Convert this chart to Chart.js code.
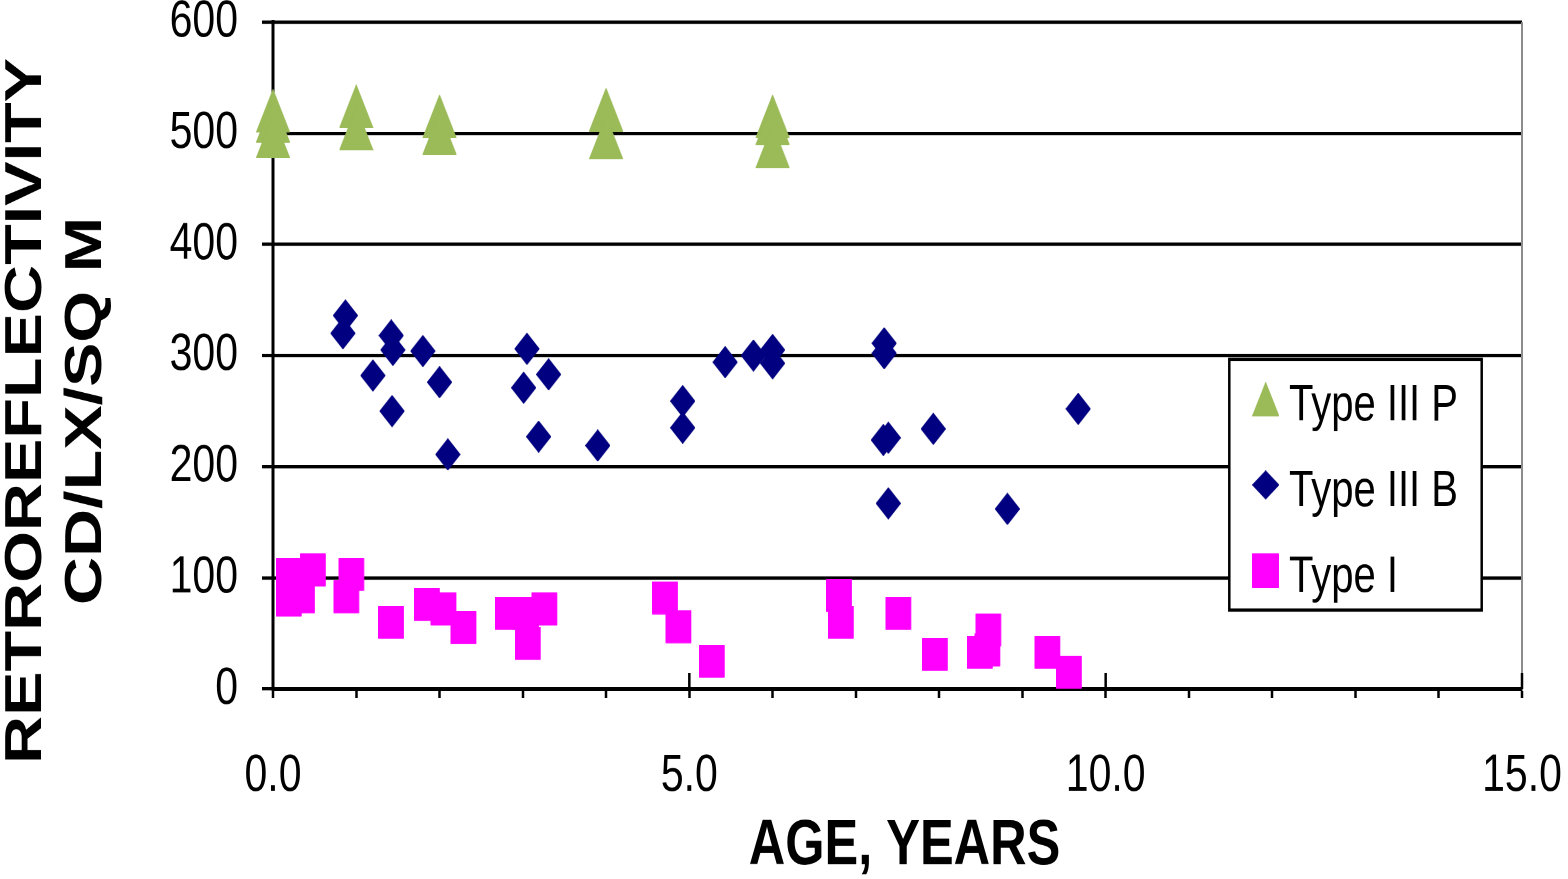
<!DOCTYPE html>
<html><head><meta charset="utf-8">
<script src="https://cdn.jsdelivr.net/npm/chart.js@4/dist/chart.umd.min.js"></script>
<style>html,body{margin:0;padding:0;background:#fff;overflow:hidden}</style>
</head><body>
<canvas id="c" width="1568" height="687" style="width:1568px;height:879px;display:block"></canvas>
<script>
// ---- data ----
const seriesNames = ['Type III P', 'Type III B', 'Type I'];
const typeIIIP_x = [0.0, 0.0, 0.0, 1.0, 1.0, 2.0, 2.0, 4.0, 4.0, 6.0, 6.0, 6.0];
const typeIIIP_y = [520, 511, 497, 524, 504, 515, 500, 521, 496, 515, 509, 488];
const typeIIIB_x = [0.87, 0.84, 1.42, 1.44, 1.80, 1.20, 2.00, 1.43, 2.10, 3.05, 3.31, 3.01, 3.19, 3.90, 4.92, 4.92, 5.43, 5.77, 6.00, 6.00, 7.34, 7.34, 7.33, 7.39, 7.93, 9.67, 7.39, 8.82];
const typeIIIB_y = [336, 320, 318, 305, 304, 282, 276, 250, 211, 306, 283, 271, 227, 219, 259, 235, 294, 300, 305, 293, 311, 302, 224, 226, 234, 252, 167, 162];
const typeI_x = [0.19, 0.19, 0.48, 0.35, 0.94, 0.88, 1.42, 1.85, 2.05, 2.29, 2.82, 3.04, 3.26, 3.06, 4.71, 4.87, 5.27, 6.80, 6.82, 7.51, 7.95, 8.59, 8.49, 8.58, 9.30, 9.56];
const typeI_y = [103, 80, 107, 83, 103, 83, 60, 76, 72, 55, 68, 68, 72, 41, 82, 56, 25, 84, 60, 68, 31, 53, 33, 35, 33, 15];
const xTickValues = [0, 5, 10, 15];
const xTickLabels = ['0.0', '5.0', '10.0', '15.0'];
const yTickLabels = ['0', '100', '200', '300', '400', '500', '600'];
const xTitle = 'AGE, YEARS';
const yTitleLines = ['RETROREFLECTIVITY', 'CD/LX/SQ M'];

// ---- styling ----
const FONT = "'Liberation Sans', Arial, sans-serif";
const COLORS = ['#9BBB59', '#000080', '#FF00FF'];
const SHIFT = '      '; // moves the rotated title toward the bottom, as in the original

function makeMarker(shape, w, h, color, dy) {
  dy = dy || 0;
  const k = 4, H = h + 2 * Math.abs(dy);
  const c = document.createElement('canvas');
  c.width = Math.ceil(w * k); c.height = Math.ceil(H * k);
  const g = c.getContext('2d');
  g.scale(k, k);
  g.fillStyle = color; g.strokeStyle = color; g.lineJoin = 'round'; g.lineWidth = 1;
  const top = (H - h) / 2 + dy, l = 0.5, r = w - 0.5, t = top + 0.5, b = top + h - 0.5;
  g.beginPath();
  if (shape === 'tri') { g.moveTo(w / 2, t); g.lineTo(r, b); g.lineTo(l, b); }
  else if (shape === 'dia') { g.moveTo(w / 2, t); g.lineTo(r, top + h / 2); g.lineTo(w / 2, b); g.lineTo(l, top + h / 2); }
  else { g.rect(l, t, r - l, b - t); }
  g.closePath(); g.fill(); g.stroke();
  const img = new Image();
  img.width = w; img.height = H;
  img.src = c.toDataURL();
  return img;
}
const plotMarkers = [makeMarker('tri', 34.5, 34.5, COLORS[0]), makeMarker('dia', 25.5, 25.5, COLORS[1]), makeMarker('sq', 26.3, 26.8, COLORS[2])];
const legendMarkers = [makeMarker('tri', 27.7, 26.8, COLORS[0], -5.7), makeMarker('dia', 27.7, 22.9, COLORS[1], -5.7), makeMarker('sq', 27.7, 27.3, COLORS[2], -5.7)];

const LEG = { left: 1235.4, top: 270.7, w: 300, h: 260 };
const LEG_FRAME = { x: 1229.3, y: 280.8, w: 252.4, h: 196 };

const extras = {
  id: 'extras',
  afterLayout(chart) {
    const lg = chart.legend;
    if (!lg) return;
    lg.left = LEG.left; lg.top = LEG.top; lg.width = LEG.w; lg.height = LEG.h;
    lg.right = LEG.left + LEG.w; lg.bottom = LEG.top + LEG.h;
    if (!lg._framed) {
      const orig = lg.draw.bind(lg);
      lg.draw = function (area) {
        const ctx = chart.ctx;
        ctx.save();
        ctx.fillStyle = '#fff'; ctx.strokeStyle = '#000'; ctx.lineWidth = 2.5;
        ctx.fillRect(LEG_FRAME.x, LEG_FRAME.y, LEG_FRAME.w, LEG_FRAME.h);
        ctx.strokeRect(LEG_FRAME.x, LEG_FRAME.y, LEG_FRAME.w, LEG_FRAME.h);
        ctx.restore();
        orig(area);
      };
      lg._framed = true;
    }
  },
  beforeDatasetsDraw(chart) {
    const a = chart.chartArea, ctx = chart.ctx;
    ctx.save();
    ctx.strokeStyle = '#8c8c8c'; ctx.lineWidth = 2;
    ctx.beginPath(); ctx.moveTo(a.right, a.top); ctx.lineTo(a.right, a.bottom); ctx.stroke();
    const xs = chart.scales.x;
    ctx.strokeStyle = '#000'; ctx.lineWidth = 2.5;
    xTickValues.forEach(v => {
      if (v === 0) return;
      const px = xs.getPixelForValue(v);
      ctx.beginPath(); ctx.moveTo(px, a.bottom); ctx.lineTo(px, a.bottom - 12.5); ctx.stroke();
    });
    ctx.restore();
  }
};

function pts(xs, ys) { return xs.map((x, i) => ({ x: x, y: ys[i] })); }

Promise.all(plotMarkers.concat(legendMarkers).map(im => im.decode().catch(() => null))).then(() => {
  Chart.defaults.font.family = FONT;
  Chart.defaults.color = '#000';
  new Chart(document.getElementById('c'), {
    type: 'scatter',
    data: {
      datasets: [
        { label: seriesNames[0], data: pts(typeIIIP_x, typeIIIP_y), pointStyle: plotMarkers[0], pointRadius: 10, backgroundColor: COLORS[0], borderColor: COLORS[0], clip: false },
        { label: seriesNames[1], data: pts(typeIIIB_x, typeIIIB_y), pointStyle: plotMarkers[1], pointRadius: 10, backgroundColor: COLORS[1], borderColor: COLORS[1], clip: false },
        { label: seriesNames[2], data: pts(typeI_x, typeI_y), pointStyle: plotMarkers[2], pointRadius: 10, backgroundColor: COLORS[2], borderColor: COLORS[2], clip: false }
      ]
    },
    options: {
      responsive: false,
      devicePixelRatio: 2,
      animation: false,
      events: [],
      layout: { padding: { left: 0, top: 17.19, right: 46, bottom: 0 } },
      plugins: {
        tooltip: { enabled: false },
        legend: {
          position: 'chartArea',
          align: 'start',
          labels: {
            usePointStyle: true,
            pointStyleWidth: 6.6,
            padding: 27,
            color: '#000',
            font: { family: FONT, size: 40 },
            generateLabels(chart) {
              const items = Chart.defaults.plugins.legend.labels.generateLabels(chart);
              items.forEach((it, i) => { it.pointStyle = legendMarkers[i]; });
              return items;
            }
          }
        }
      },
      scales: {
        x: {
          type: 'linear', position: 'bottom', min: 0, max: 15,
          afterFit(s) { s.height = 148.5; s.paddingLeft = 0; s.paddingRight = 0; },
          border: { display: true, color: '#000', width: 3 },
          grid: { display: true, drawOnChartArea: false, drawTicks: true, tickLength: 7, tickWidth: 2.5, tickColor: '#000' },
          ticks: {
            stepSize: 1, autoSkip: false, maxRotation: 0, minRotation: 0, padding: 36.4, color: '#000',
            font: { family: FONT, size: 41, lineHeight: 1.2 },
            callback(v) { const i = xTickValues.indexOf(v); return i >= 0 ? xTickLabels[i] : ''; }
          },
          title: { display: true, text: ' ' + xTitle, color: '#000', font: { family: FONT, size: 50.5, weight: 'bold', lineHeight: 1.0 }, padding: { top: 0, bottom: 0 } }
        },
        y: {
          type: 'linear', position: 'left', min: 0, max: 600,
          afterFit(s) { s.width = 273; s.paddingTop = 0; s.paddingBottom = 0; },
          border: { display: true, color: '#000', width: 3 },
          grid: { color: '#000', lineWidth: 2.6, drawTicks: true, tickLength: 11, tickWidth: 2.6, tickColor: '#000' },
          ticks: {
            stepSize: 100, autoSkip: false, padding: 24, color: '#000',
            font: { family: FONT, size: 41, lineHeight: 1.2 },
            callback(v) { return yTickLabels[Math.round(v / 100)]; }
          },
          title: { display: true, text: yTitleLines.map(t => t + SHIFT), color: '#000', font: { family: FONT, size: 52, weight: 'bold', lineHeight: 1.1538 }, padding: { top: -3.5, bottom: 0 } }
        }
      }
    },
    plugins: [extras]
  });
});
</script>
</body></html>
